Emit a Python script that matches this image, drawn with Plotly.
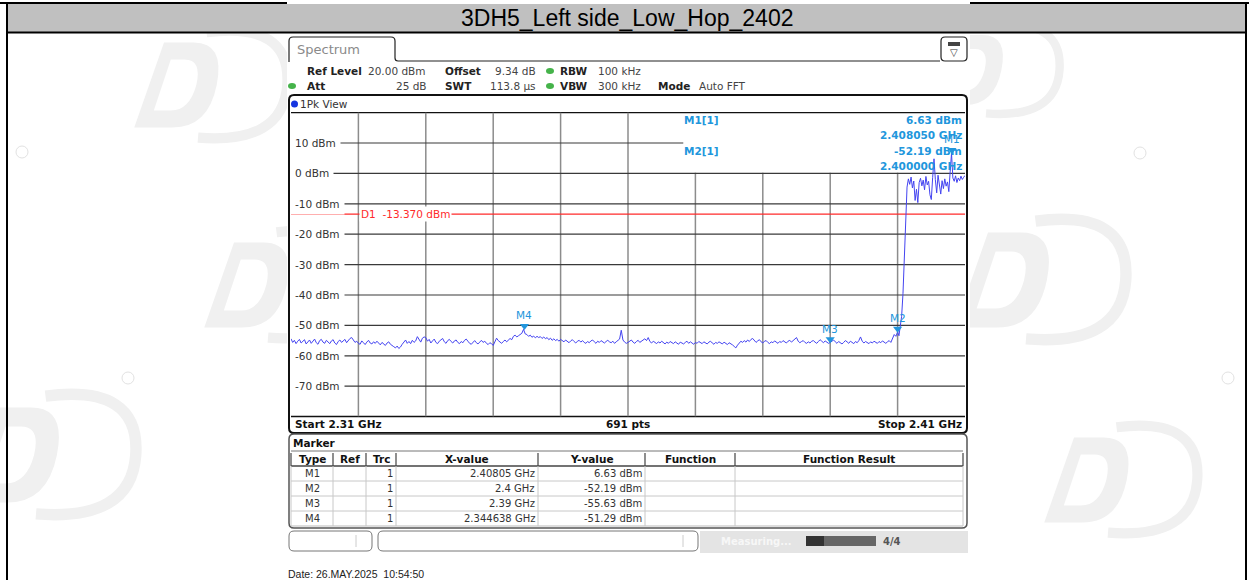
import numpy as np
import plotly.graph_objects as go

W, H = 1249, 580

# ---------------- data ----------------
title_text = "3DH5_Left side_Low_Hop_2402"
start_ghz, stop_ghz = 2.31, 2.41
ref_level_dbm, bottom_dbm = 20, -80

noise_dbm = [
    -54.4, -55.6, -54.9, -56.0, -55.2, -54.6, -55.8, -55.1, -54.7, -56.1,
    -55.4, -54.8, -55.9, -55.2, -54.5, -55.7, -56.2, -55.0, -54.6, -55.5,
    -55.9, -54.9, -55.4, -56.0, -55.1, -54.7, -55.8, -56.3, -55.3, -54.8,
    -55.6, -55.0, -54.6, -55.7, -54.8, -54.3, -54.0, -54.9, -55.6, -55.2,
    -55.9, -56.2, -55.1, -55.7, -56.3, -55.5, -54.9, -55.8, -56.1, -55.4,
    -55.9, -55.2, -55.7, -56.4, -55.6, -56.0, -56.6, -55.8, -55.4, -56.2,
    -56.5, -57.0, -57.4, -56.8, -57.6, -57.1, -56.2, -55.4, -54.8, -55.9,
    -55.3, -56.0, -54.9, -55.6, -55.1, -53.7, -54.8, -55.5, -54.2, -53.8,
    -54.0, -55.2, -54.6, -55.8, -55.1, -54.5, -55.6, -56.0, -55.2, -54.7,
    -54.3, -55.4, -55.9, -55.0, -54.6, -55.3, -55.8, -55.1, -54.8, -55.6,
    -56.0, -55.3, -55.7, -54.9, -54.5, -55.2, -55.9, -56.2, -55.4, -55.0,
    -55.7, -56.1, -55.5, -54.9, -55.6, -55.2, -55.9, -56.3, -55.7, -56.0,
    -56.6, -55.4, -54.2, -55.0, -55.6, -55.9, -55.3, -54.8, -55.4, -54.9,
    -54.3, -54.7, -53.6, -53.2, -53.8, -53.4, -53.0, -52.6, -51.29, -52.8,
    -53.0, -53.6, -53.2, -53.9, -53.5, -54.1, -53.6, -54.0, -53.7, -54.3,
    -53.8, -54.4, -54.0, -54.7, -54.2, -54.9, -54.4, -55.0, -54.6, -55.2,
    -54.6, -55.0, -55.4, -54.8, -55.2, -55.7, -55.1, -54.7, -55.3, -55.8,
    -55.2, -54.9, -55.5, -55.0, -55.6, -55.9, -55.3, -55.7, -55.1, -54.8,
    -55.4, -55.9, -55.2, -55.6, -55.0, -55.5, -55.8, -55.3, -54.9, -55.4,
    -55.7, -55.2, -55.9, -55.4, -55.0, -54.5, -51.6, -54.8, -55.5, -55.9,
    -55.6, -55.1, -54.8, -55.5, -55.9, -55.3, -54.9, -55.6, -55.2, -54.6,
    -54.4, -55.0, -54.0, -55.3, -55.8, -55.2, -55.6, -56.0, -55.4, -55.8,
    -55.2, -55.7, -56.1, -55.5, -55.9, -55.3, -55.6, -56.0, -55.4, -55.9,
    -56.2, -55.5, -55.8, -56.1, -55.6, -55.2, -55.9, -55.4, -55.8, -56.2,
    -55.6, -55.9, -55.3, -55.7, -56.0, -55.4, -55.8, -56.1, -55.5, -55.2,
    -55.8, -56.2, -55.6, -55.9, -55.4, -55.7, -56.1, -55.5, -55.9, -56.3,
    -55.7, -56.0, -56.4, -56.9, -57.4, -56.5, -55.8, -55.2, -55.6, -55.0,
    -55.5, -54.8, -55.3, -54.6, -54.3, -55.0, -55.6, -55.1, -54.7, -55.4,
    -55.8, -55.2, -55.0, -55.6, -56.0, -55.4, -55.7, -55.1, -55.5, -55.9,
    -55.3, -55.6, -55.0, -55.5, -55.8, -55.2, -54.9, -55.5, -55.1, -54.6,
    -54.0, -55.2, -55.7, -55.3, -55.0, -55.6, -55.9, -55.4, -55.8, -55.2,
    -55.0, -55.5, -55.9, -55.3, -54.7, -55.2, -55.7, -55.1, -55.4, -55.9,
    -55.63, -55.2, -54.8, -55.4, -55.9, -55.3, -55.7, -56.1, -55.6, -55.0,
    -55.4, -55.9, -55.2, -55.6, -56.0, -55.3, -55.7, -55.0, -53.8, -55.2,
    -55.8, -55.3, -55.7, -56.0, -55.4, -55.8, -55.2, -55.6, -55.9, -55.3,
    -55.7, -55.1, -55.5, -55.9, -55.4, -55.0, -55.6, -54.4, -53.0, -53.6,
    -52.19,
]
signal_dbm = [
    -53.4, -50.8, -47.0, -39.5, -28.0, -14.0, -4.5, -1.8, -3.6, -1.2,
    -4.8, -2.5, -8.9, -5.2, -9.6, -3.0, -1.6, -4.1, -2.2, -5.4,
    -1.0, -3.8, -2.6, -7.0, -8.6, -1.4, 4.8, -2.0, -6.4, -0.6,
    -3.1, -6.8, -2.4, -5.0, -1.8, -4.2, -2.8, -6.0, 0.5, 6.63,
    -1.5, -2.6, -0.8, -3.0, -1.5, -2.4, -0.9, -2.0, -1.3, -0.7,
]
freq_noise = np.linspace(2.31, 2.40, len(noise_dbm))
freq_signal = np.linspace(2.4002, 2.41, len(signal_dbm))

ytick_vals = [10, 0, -10, -20, -30, -40, -50, -60, -70]
ytick_text = ["10 dBm", "0 dBm", "-10 dBm", "-20 dBm", "-30 dBm", "-40 dBm",
              "-50 dBm", "-60 dBm", "-70 dBm"]
xgrid_vals = [2.32, 2.33, 2.34, 2.35, 2.36, 2.37, 2.38, 2.39, 2.40]

d1_dbm = -13.37
d1_text = "D1  -13.370 dBm"

marker_names = ["M1", "M2", "M3", "M4"]
marker_trc = ["1", "1", "1", "1"]
marker_x_ghz = [2.40805, 2.4, 2.39, 2.344638]
marker_y_dbm = [6.63, -52.19, -55.63, -51.29]
marker_x_text = ["2.40805 GHz", "2.4 GHz", "2.39 GHz", "2.344638 GHz"]
marker_y_text = ["6.63 dBm", "-52.19 dBm", "-55.63 dBm", "-51.29 dBm"]

table_headers = ["Type", "Ref", "Trc", "X-value", "Y-value", "Function", "Function Result"]
date_text = "Date: 26.MAY.2025  10:54:50"

# ---------------- styles / geometry ----------------
UI = "DejaVu Sans"
ARIAL = "Liberation Sans, Arial"
MK = "#2196dc"
TRACE = "#4444f0"
WM = "#f0f0f0"
GX0, GX1 = 291, 965
GY0, GY1 = 112.6, 416.6

shapes = []
ann = []


def line(x0, y0, x1, y1, color="#000", width=1, ref=("x", "y")):
    shapes.append(dict(type="line", x0=x0, y0=y0, x1=x1, y1=y1, xref=ref[0], yref=ref[1],
                       line=dict(color=color, width=width), layer="below"))


def rect(x0, y0, x1, y1, fill=None, color=None, width=1):
    shapes.append(dict(type="rect", x0=x0, y0=y0, x1=x1, y1=y1, xref="x", yref="y",
                       fillcolor=fill or "rgba(0,0,0,0)",
                       line=dict(color=color or "rgba(0,0,0,0)", width=width if color else 0),
                       layer="below"))


def rrect(x0, y0, x1, y1, r, fill=None, color="#000", width=1):
    p = (f"M{x0+r},{y0} L{x1-r},{y0} Q{x1},{y0} {x1},{y0+r} L{x1},{y1-r} "
         f"Q{x1},{y1} {x1-r},{y1} L{x0+r},{y1} Q{x0},{y1} {x0},{y1-r} "
         f"L{x0},{y0+r} Q{x0},{y0} {x0+r},{y0} Z")
    shapes.append(dict(type="path", path=p, xref="x", yref="y",
                       fillcolor=fill or "rgba(0,0,0,0)",
                       line=dict(color=color, width=width), layer="below"))


def dot(x, y, rx, ry, fill):
    shapes.append(dict(type="circle", x0=x - rx, x1=x + rx, y0=y - ry, y1=y + ry,
                       xref="x", yref="y", fillcolor=fill, line=dict(width=0), layer="below"))


def logo(cx, cy, s):
    # faint stylised watermark: slanted "D" block plus an open ring
    p = (f"M{cx-0.95*s},{cy+0.5*s} L{cx-0.6*s},{cy-0.5*s} L{cx-0.25*s},{cy-0.5*s} "
         f"Q{cx+0.12*s},{cy-0.5*s} {cx+0.02*s},{cy} Q{cx-0.08*s},{cy+0.5*s} {cx-0.5*s},{cy+0.5*s} Z "
         f"M{cx-0.72*s},{cy+0.3*s} L{cx-0.52*s},{cy-0.3*s} L{cx-0.36*s},{cy-0.3*s} "
         f"Q{cx-0.15*s},{cy-0.3*s} {cx-0.22*s},{cy} Q{cx-0.3*s},{cy+0.3*s} {cx-0.52*s},{cy+0.3*s} Z")
    shapes.append(dict(type="path", path=p, xref="x", yref="y", fillcolor=WM,
                       line=dict(width=0), layer="below"))
    shapes.append(dict(type="path", xref="x", yref="y", layer="below",
                       path=(f"M{cx-0.1*s},{cy-0.62*s} Q{cx+0.9*s},{cy-0.75*s} {cx+0.85*s},{cy} "
                             f"Q{cx+0.8*s},{cy+0.7*s} {cx-0.2*s},{cy+0.62*s}"),
                       line=dict(color=WM, width=0.12 * s)))


def T(x, y, s, size=10.5, color="#222", xa="left", bold=False, family=UI,
      ref=("x", "y"), bg=None, pad=0, xshift=0, yshift=0, ya="middle"):
    a = dict(x=x, y=y, xref=ref[0], yref=ref[1], text=f"<b>{s}</b>" if bold else s,
             showarrow=False, xanchor=xa, yanchor=ya,
             font=dict(family=family, size=size, color=color),
             borderpad=pad, xshift=xshift, yshift=yshift)
    if bg:
        a["bgcolor"] = bg
    ann.append(a)


# ---------------- faint watermarks (behind the screenshot) ----------------
for (cx, cy, s) in [(215, 85, 85), (285, 285, 85), (55, 455, 95),
                    (1045, 280, 95), (1125, 480, 85), (1000, 70, 70)]:
    logo(cx, cy, s)
for (cx, cy) in [(22, 152), (1140, 153), (128, 378), (1228, 378)]:
    dot(cx, cy, 6, 6, "rgba(0,0,0,0)")
    shapes[-1]["line"] = dict(color="#e2e2e2", width=1)
rect(287, 34, 970, 556, fill="#fff")

# ---------------- page frame ----------------
rect(7, 4, 1246, 32, fill="#c0c0c0")
line(0, 3, 287, 3, width=2)
line(970, 3, 1249, 3, width=2)
line(6, 32.5, 1247, 32.5, width=2)
line(7, 3, 7, 580, width=2)
line(1246, 3, 1246, 580, width=2)
T(627, 18, title_text, size=23, color="#000", xa="center", family=ARIAL)

# ---------------- analyzer header ----------------
shapes.append(dict(type="path", xref="x", yref="y", layer="below",
                   path="M289,62 L289,41 Q289,37 293,37 L391,37 Q395,37 395,41 L395,58 Q395,61 398,61 L940,61",
                   line=dict(color="#222", width=1.2)))
T(296, 49, "Spectrum", size=13, color="#8a8a8a")
rrect(941, 37, 967, 61, 4, fill="#fff", color="#222", width=1.2)
rect(948, 42, 960, 46, fill="#444")
T(954, 52, "▽", size=10, color="#333", xa="center")

T(306, 71, "Ref Level", bold=True)
T(367, 71, "20.00 dBm", color="#444")
T(444, 71, "Offset", bold=True)
T(494, 71, "9.34 dB", color="#444")
dot(550, 71, 4, 3, "#45b34a")
T(559, 71, "RBW", bold=True)
T(597, 71, "100 kHz", color="#444")

dot(292, 86, 4, 3, "#45b34a")
T(306, 86, "Att", bold=True)
T(428, 86, "25 dB", color="#444", xa="right")
T(444, 86, "SWT", bold=True)
T(489, 86, "113.8 µs", color="#444")
dot(550, 86, 4, 3, "#45b34a")
T(559, 86, "VBW", bold=True)
T(597, 86, "300 kHz", color="#444")
T(657, 86, "Mode", bold=True)
T(698, 86, "Auto FFT", color="#444")

# ---------------- graph frame ----------------
rrect(289, 95, 967, 433, 5, fill="#fff", color="#111", width=2)
dot(294.5, 104, 3.5, 3.5, "#1535e0")
T(299, 104, "1Pk View", size=10.5, color="#333")
line(GX0, GY0, GX1, GY0, color="#111", width=1.2)
line(GX0, GY1, GX1, GY1, color="#111", width=1.5)
T(294, 424, "Start 2.31 GHz", bold=True, color="#111")
T(628, 424, "691 pts", bold=True, color="#111", xa="center")
T(963, 424, "Stop 2.41 GHz", bold=True, color="#111", xa="right")

# ---------------- data gridlines (data axes) ----------------
D = ("x2", "y2")
info_x = 2.3682
for f in xgrid_vals:
    top = 0.2 if f > info_x else ref_level_dbm
    line(f, bottom_dbm, f, top, color="#8c8c8c", width=1.5, ref=D)
for v in ytick_vals:
    right = info_x if v == 10 else stop_ghz
    line(start_ghz, v, right, v, color="#3a3a3a", width=1.2, ref=D)
for v, s in zip(ytick_vals, ytick_text):
    T(start_ghz, v, s, size=10.5, color="#333", ref=D, bg="#fff", pad=4, xshift=-1)
line(start_ghz, d1_dbm, stop_ghz, d1_dbm, color="#ff2a2a", width=1.2, ref=D)
T(2.32, d1_dbm, d1_text, size=10.5, color="#ff2a2a", ref=D, bg="#fff", pad=1, xshift=1)

# marker info block
T(683, 120, "M1[1]", size=10.5, color=MK, bold=True)
T(963, 120, "6.63 dBm", size=10.5, color=MK, bold=True, xa="right")
T(963, 135, "2.408050 GHz", size=10.5, color=MK, bold=True, xa="right")
T(683, 151, "M2[1]", size=10.5, color=MK, bold=True)
T(963, 151, "-52.19 dBm", size=10.5, color=MK, bold=True, xa="right")
T(963, 166, "2.400000 GHz", size=10.5, color=MK, bold=True, xa="right")

# marker labels
for n, mx, my in zip(marker_names, marker_x_ghz, marker_y_dbm):
    T(mx, my, n, size=10.5, color=MK, xa="center", ref=D, yshift=14)

# ---------------- marker table ----------------
rrect(289, 434, 967, 528, 5, fill="#fff", color="#555", width=1.5)
T(292, 443, "Marker", bold=True, color="#111")
cols = [291, 333, 366, 396, 538, 645, 735, 963]
rows = [451, 466, 481, 496, 511, 526]
line(cols[0], rows[0], cols[-1], rows[0], color="#777", width=1)
line(cols[0], rows[1], cols[-1], rows[1], color="#444", width=1.5)
for r in rows[2:-1]:
    line(cols[0], r, cols[-1], r, color="#c8c8c8", width=1)
line(cols[0], rows[-1], cols[-1], rows[-1], color="#bbb", width=1)
for c in cols:
    line(c, rows[0] + 2, c, rows[1], color="#444", width=1.2)
    line(c, rows[1], c, rows[-1], color="#c8c8c8", width=1)
for i, h in enumerate(table_headers):
    T((cols[i] + cols[i + 1]) / 2, 459, h, bold=True, color="#111", xa="center")
for k in range(len(marker_names)):
    yy = (rows[k + 1] + rows[k + 2]) / 2
    T((cols[0] + cols[1]) / 2, yy, marker_names[k], size=10, color="#333", xa="center")
    T(cols[3] - 2, yy, marker_trc[k], size=10, color="#333", xa="right")
    T(cols[4] - 2, yy, marker_x_text[k], size=10, color="#333", xa="right")
    T(cols[5] - 2, yy, marker_y_text[k], size=10, color="#333", xa="right")

# ---------------- status bar ----------------
rrect(289, 531, 372, 551, 5, fill="#fff", color="#777", width=1)
line(356, 535, 356, 547, color="#ccc")
rrect(378, 531, 698, 551, 5, fill="#fff", color="#777", width=1)
line(683, 535, 683, 547, color="#ccc")
rect(700, 531, 968, 553, fill="#e4e4e4")
T(720, 541, "Measuring...", size=10, color="#f7f7f7", bold=True)
rect(806, 536, 824, 546, fill="#333")
rect(824, 536, 876, 546, fill="#666")
T(892, 541, "4/4", size=10, color="#555", bold=True, xa="center")

T(287, 574, date_text, size=10.5, color="#222", family=ARIAL)

# ---------------- traces ----------------
fig = go.Figure()
fig.add_trace(go.Scatter(x=[0], y=[0], mode="markers", marker=dict(opacity=0),
                         xaxis="x", yaxis="y", hoverinfo="skip", showlegend=False))
fig.add_trace(go.Scatter(x=np.concatenate([freq_noise, freq_signal]),
                         y=list(noise_dbm) + list(signal_dbm),
                         mode="lines", line=dict(color=TRACE, width=1),
                         xaxis="x2", yaxis="y2", hoverinfo="skip", showlegend=False))
fig.add_trace(go.Scatter(x=marker_x_ghz, y=[v + 1.1 for v in marker_y_dbm], mode="markers",
                         marker=dict(symbol="triangle-down", size=8, color=MK),
                         xaxis="x2", yaxis="y2", hoverinfo="skip", showlegend=False))

fig.update_layout(
    width=W, height=H, margin=dict(l=0, r=0, t=0, b=0),
    paper_bgcolor="#fff", plot_bgcolor="rgba(0,0,0,0)",
    showlegend=False,
    xaxis=dict(domain=[0, 1], range=[0, W], visible=False, fixedrange=True),
    yaxis=dict(domain=[0, 1], range=[H, 0], visible=False, fixedrange=True),
    xaxis2=dict(domain=[GX0 / W, GX1 / W], range=[start_ghz, stop_ghz], visible=False,
                anchor="y2", fixedrange=True),
    yaxis2=dict(domain=[1 - GY1 / H, 1 - GY0 / H], range=[bottom_dbm, ref_level_dbm],
                visible=False, anchor="x2", fixedrange=True),
    shapes=shapes, annotations=ann,
)

fig.write_html("out.html", config={"displayModeBar": False, "staticPlot": True},
               post_script="document.body.style.margin='0';document.body.style.overflow='hidden';")
